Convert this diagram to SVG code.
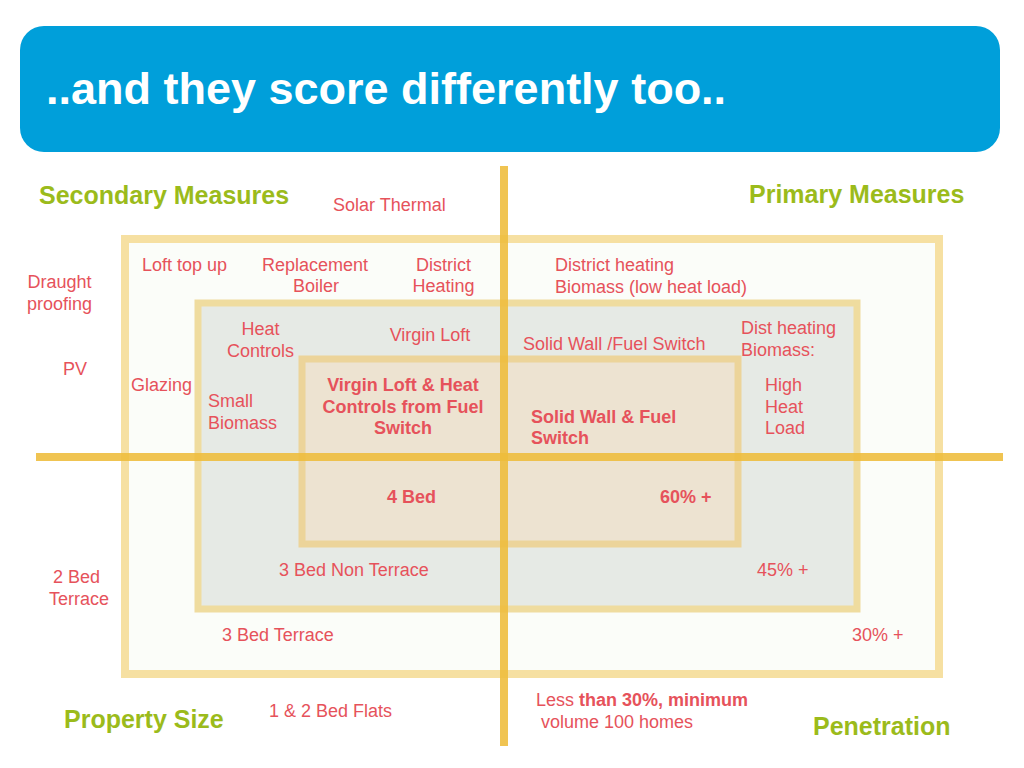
<svg xmlns="http://www.w3.org/2000/svg" width="1024" height="768" viewBox="0 0 1024 768">
<style>
text{font-family:"Liberation Sans",Arial,Helvetica,sans-serif;}
.r{fill:#e6525b;font-size:18px;}
.rb{fill:#e6525b;font-size:18px;font-weight:bold;}
.g{fill:#9bbb1b;font-size:25px;font-weight:bold;}
.c{text-anchor:middle;}
.axis{stroke:#efbd3b;stroke-width:8;opacity:0.88;}
</style>
<rect width="1024" height="768" fill="#ffffff"/>
<g id="header">
<rect x="20" y="26" width="980" height="126" rx="24" fill="#009fda"/>
<text x="46" y="104" font-size="45" font-weight="bold" fill="#ffffff">..and they score differently too..</text>
</g>
<g id="zones">
<rect id="outer" x="125" y="239" width="814" height="435" fill="#fbfdf9" stroke="#f6e0a2" stroke-width="8"/>
<rect id="middle" x="198" y="303" width="659" height="306" fill="#e6eae5" stroke="#efdc9f" stroke-width="7"/>
<rect id="inner" x="302" y="359" width="436" height="185" fill="#ede3d1" stroke="#ecd49a" stroke-width="7"/>
</g>
<g id="connectors">
<line class="axis" x1="36" y1="457" x2="1003" y2="457"/>
<line class="axis" x1="504" y1="166" x2="504" y2="746"/>
</g>
<g id="axis-labels">
<text class="g" x="39" y="204">Secondary Measures</text>
<text class="g" x="749" y="203">Primary Measures</text>
<text class="g" x="64" y="728">Property Size</text>
<text class="g" x="813" y="735">Penetration</text>
</g>
<g id="outside-labels">
<text class="r" x="333" y="211">Solar Thermal</text>
<text class="r c" x="59.5" y="288">Draught</text>
<text class="r c" x="59.5" y="310">proofing</text>
<text class="r c" x="75" y="375">PV</text>
<text class="r" x="53" y="583">2 Bed</text>
<text class="r" x="49" y="605">Terrace</text>
<text class="r" x="269" y="717">1 &amp; 2 Bed Flats</text>
<text class="r" x="536" y="706">Less <tspan font-weight="bold">than 30%, minimum</tspan></text>
<text class="r" x="536" y="728"> <tspan x="541">volume 100 homes</tspan></text>
</g>
<g id="outer-labels">
<text class="r" x="142" y="271">Loft top up</text>
<text class="r c" x="315" y="271">Replacement</text>
<text class="r c" x="316" y="292">Boiler</text>
<text class="r c" x="443.5" y="271">District</text>
<text class="r c" x="443.5" y="292">Heating</text>
<text class="r" x="555" y="271">District heating</text>
<text class="r" x="555" y="293">Biomass (low heat load)</text>
<text class="r" x="131" y="391">Glazing</text>
<text class="r" x="222" y="641">3 Bed Terrace</text>
<text class="r" x="852" y="641">30% +</text>
</g>
<g id="middle-labels">
<text class="r c" x="260.5" y="335">Heat</text>
<text class="r c" x="260.5" y="357">Controls</text>
<text class="r c" x="430" y="341">Virgin Loft</text>
<text class="r" x="523" y="350">Solid Wall /Fuel Switch</text>
<text class="r" x="741" y="334">Dist heating</text>
<text class="r" x="741" y="356">Biomass:</text>
<text class="r" x="765" y="391">High</text>
<text class="r" x="765" y="413">Heat</text>
<text class="r" x="765" y="434">Load</text>
<text class="r" x="208" y="407">Small</text>
<text class="r" x="208" y="429">Biomass</text>
<text class="r" x="279" y="576">3 Bed Non Terrace</text>
<text class="r" x="757" y="576">45% +</text>
</g>
<g id="inner-labels">
<text class="rb c" x="403" y="391">Virgin Loft &amp; Heat</text>
<text class="rb c" x="403" y="413">Controls from Fuel</text>
<text class="rb c" x="403" y="434">Switch</text>
<text class="rb" x="531" y="423">Solid Wall &amp; Fuel</text>
<text class="rb" x="531" y="444">Switch</text>
<text class="rb" x="387" y="503">4 Bed</text>
<text class="rb" x="660" y="503">60% +</text>
</g>
</svg>
